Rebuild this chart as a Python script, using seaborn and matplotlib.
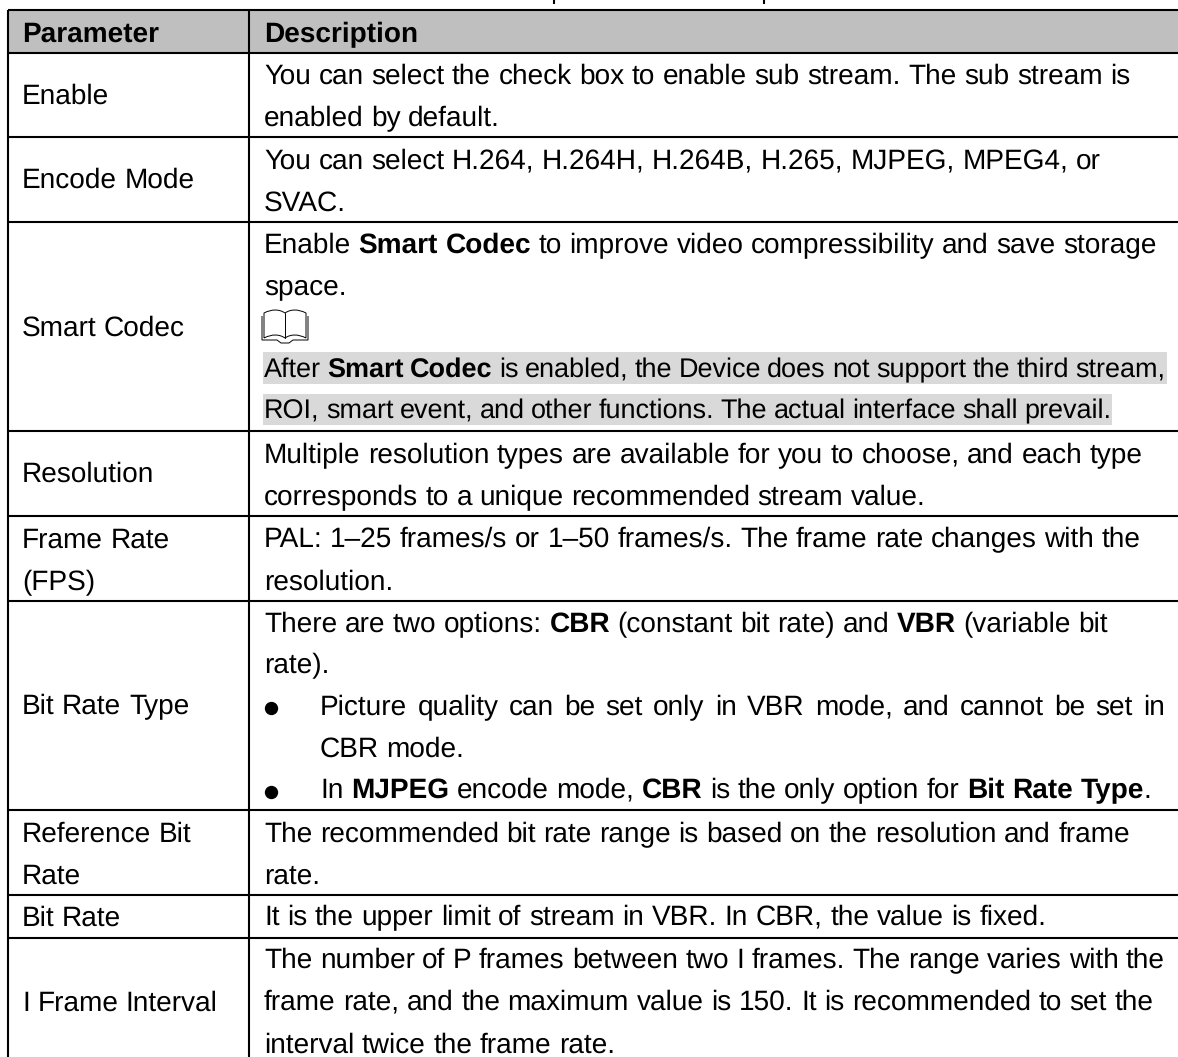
import matplotlib
matplotlib.use("Agg")
import matplotlib.pyplot as plt
from matplotlib.backends.backend_agg import get_hinting_flag
from matplotlib.font_manager import FontProperties, findfont, get_font
from matplotlib.path import Path
from matplotlib.patches import PathPatch, Rectangle
import pandas as pd
import seaborn as sns

# ---- content ----
header = ["Parameter", "Description"]
row_labels = [["Enable"], ["Encode Mode"], ["Smart Codec"], ["Resolution"], ["Frame Rate", "(FPS)"],
              ["Bit Rate Type"], ["Reference Bit", "Rate"], ["Bit Rate"], ["I Frame Interval"]]
row_edges = [52.7, 137, 222, 431, 516, 601, 810, 895, 938, 1066]
# (text, baseline y, x, right edge to fit or None, font px); ** marks bold
desc_lines = [
    ("You can select the check box to enable sub stream. The sub stream is", 84, 264, None, 28),
    ("enabled by default.", 126, 264, None, 28),
    ("You can select H.264, H.264H, H.264B, H.265, MJPEG, MPEG4, or", 169, 264, None, 28),
    ("SVAC.", 211, 264, None, 28),
    ("Enable **Smart Codec** to improve video compressibility and save storage", 253, 264, None, 28),
    ("space.", 295, 264, None, 28),
    ("After **Smart Codec** is enabled, the Device does not support the third stream,", 377, 264, 1165, 27),
    ("ROI, smart event, and other functions. The actual interface shall prevail.", 418, 264, 1111, 27),
    ("Multiple resolution types are available for you to choose, and each type", 463, 264, None, 28),
    ("corresponds to a unique recommended stream value.", 505, 264, None, 28),
    ("PAL: 1\u201325 frames/s or 1\u201350 frames/s. The frame rate changes with the", 547, 264, None, 28),
    ("resolution.", 590, 264, None, 28),
    ("There are two options: **CBR** (constant bit rate) and **VBR** (variable bit", 632, 264, None, 28),
    ("rate).", 673, 264, None, 28),
    ("Picture quality can be set only in VBR mode, and cannot be set in", 715, 320, 1165, 28),
    ("CBR mode.", 757, 320, None, 28),
    ("In **MJPEG** encode mode, **CBR** is the only option for **Bit Rate Type**.", 798, 320, None, 28),
    ("The recommended bit rate range is based on the resolution and frame", 842, 264, None, 28),
    ("rate.", 884, 264, None, 28),
    ("It is the upper limit of stream in VBR. In CBR, the value is fixed.", 925, 264, None, 28),
    ("The number of P frames between two I frames. The range varies with the", 968, 264, 1165, 28),
    ("frame rate, and the maximum value is 150. It is recommended to set the", 1010, 264, None, 28),
    ("interval twice the frame rate.", 1053, 264, None, 28),
]
highlight_bands = [(263, 1167, 352, 384), (263, 1112, 394, 425)]
bullets = pd.DataFrame({"x": [271, 271], "y": [708, 792]})
caption_stems = [554, 764]

FONT = "Liberation Sans"
LEFT, COL = 7.5, 249
TIGHTEN = 0.997

sns.set_theme(style="white", rc={"font.family": [FONT, "DejaVu Sans"], "text.color": "black",
                                 "text.hinting": "no_hinting", "text.hinting_factor": 1})
fig = plt.figure(figsize=(11.78, 10.57), dpi=100, facecolor="white")
ax = fig.add_axes([0, 0, 1, 1])
ax.set_xlim(0, 1178)
ax.set_ylim(1057, 0)
ax.axis("off")

ax.add_patch(Rectangle((LEFT, 10), 1178 - LEFT, 42, fc="#bfbfbf", ec="none", zorder=0))
for x0, x1, y0, y1 in highlight_bands:
    ax.add_patch(Rectangle((x0, y0), x1 - x0, y1 - y0, fc="#d9d9d9", ec="none", zorder=0))

LW = 1.5
ax.hlines([10] + row_edges[:-1], LEFT, 1178, color="black", lw=LW, zorder=1)
ax.vlines([LEFT, COL], 10, 1057, color="black", lw=LW, zorder=1)
ax.vlines(caption_stems, 0, 4, color="black", lw=1.5, zorder=1)

renderer = fig.canvas.get_renderer()

def pt(px):
    return px * 72 / 100

def width(s, weight, px):
    t = ax.text(0, 0, s + "|", fontsize=pt(px), fontweight=weight)
    b = t.get_window_extent(renderer).width
    t.set_text("|")
    b -= t.get_window_extent(renderer).width
    t.remove()
    return b

def snap(word, weight, px):
    """Offset that keeps words on one pixel baseline whatever their descent."""
    prop = FontProperties(family=FONT, weight=weight, size=pt(px))
    font = get_font(findfont(prop))
    font.clear()
    font.set_size(pt(px), 100)
    def off(s):
        font.set_text(s, 0.0, flags=get_hinting_flag())
        w26, h26 = font.get_width_height()
        d26 = font.get_descent()
        ymin, ymax = -d26, h26 - d26
        h = int((ymax - ymin) / 64) + 2
        return h - int(ymax / 64) - 1 - d26 / 64
    return off(word) - off("x")

def put(x, y, word, weight, px):
    ax.text(x, round(y) + snap(word, weight, px), word, fontsize=pt(px), fontweight=weight,
            va="baseline", color="black")

def draw_line(line, x, y, right, px):
    tokens = []   # (word, weight, gap follows)
    for i, part in enumerate(line.split("**")):
        weight = "bold" if i % 2 else "normal"
        words = part.split()
        for j, w in enumerate(words):
            follows = j < len(words) - 1 or part.endswith(" ")
            tokens.append([w, weight, follows])
        if words and i + 1 < len(line.split("**")) and not part.endswith(" "):
            next_part = line.split("**")[i + 1]
            tokens[-1][2] = next_part.startswith(" ")
    if tokens:
        tokens[-1][2] = False
    widths = [width(w, wt, px) for w, wt, _ in tokens]
    space = width(" ", "normal", px)
    n = sum(1 for t in tokens if t[2])
    if n > 0:
        if right is not None:
            gap = (right - x - sum(widths)) / n
        else:
            gap = ((sum(widths) + n * space) * TIGHTEN - sum(widths)) / n
    else:
        gap = space
    for (w, wt, follows), wd in zip(tokens, widths):
        put(x, y, w, wt, px)
        x += wd + (gap if follows else 0)

# header text
draw_line("**" + header[0] + "**", 22, 42, None, 28)
draw_line("**" + header[1] + "**", 264, 42, None, 28)

# first column, vertically centred in each row
for i, lab in enumerate(row_labels):
    mid = (row_edges[i] + row_edges[i + 1]) / 2
    if len(lab) == 1:
        draw_line(lab[0], 22, mid + 9, None, 28)
    else:
        draw_line(lab[0], 22, mid - 11, None, 28)
        draw_line(lab[1], 22, mid + 31.5, None, 28)

for line, y, x, right, px in desc_lines:
    draw_line(line, x, y, right, px)

# bullets
sns.scatterplot(data=bullets, x="x", y="y", s=92, color="black", linewidth=0, ax=ax, legend=False, zorder=3)
ax.set_xlim(0, 1178)
ax.set_ylim(1057, 0)

# note icon (open book)
def book(x0, x1, top, bot):
    m = (x0 + x1) / 2
    verts = [
        (x0 + 2, bot - 5), (x0 + 2, top + 3),
        (x0 + 10, top - 1), (m - 6, top - 1), (m, top + 3),
        (m + 6, top - 1), (x1 - 10, top - 1), (x1 - 2, top + 3),
        (x1 - 2, bot - 5),
        (x1 - 10, bot - 9), (m + 6, bot - 9), (m, bot - 5),
        (m - 6, bot - 9), (x0 + 10, bot - 9), (x0 + 2, bot - 5),
    ]
    codes = [Path.MOVETO, Path.LINETO, Path.CURVE4, Path.CURVE4, Path.CURVE4,
             Path.CURVE4, Path.CURVE4, Path.CURVE4, Path.LINETO,
             Path.CURVE4, Path.CURVE4, Path.CURVE4, Path.CURVE4, Path.CURVE4, Path.CURVE4]
    ax.add_patch(PathPatch(Path(verts, codes), fc="none", ec="black", lw=0.7))
    ax.plot([m, m], [top + 3, bot - 5], color="black", lw=0.7)
    cover = [(x0, top + 6), (x0, bot - 3), (m - 8, bot - 3), (m - 4, bot), (m + 4, bot), (m + 8, bot - 3), (x1, bot - 3), (x1, top + 6)]
    ax.add_patch(PathPatch(Path(cover), fc="none", ec="black", lw=0.7))
book(262, 308, 310, 343)

fig.savefig("out.png", dpi=100, facecolor="white")
